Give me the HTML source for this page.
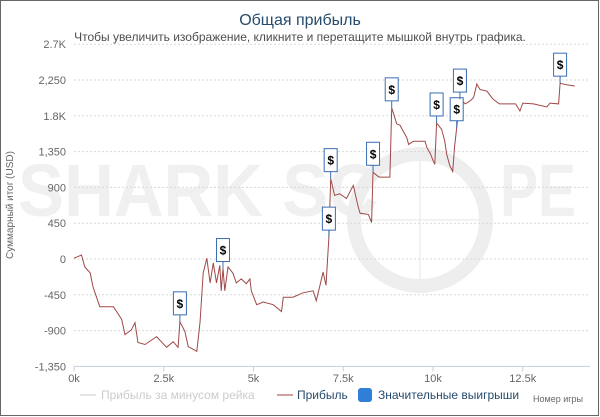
<!DOCTYPE html>
<html><head><meta charset="utf-8"><style>
html,body{margin:0;padding:0;background:#fff}
svg{display:block;font-family:"Liberation Sans","DejaVu Sans",sans-serif}
</style></head><body>
<svg id="chart" width="600" height="417" viewBox="0 0 600 417">
<rect x="0.5" y="0.5" width="598" height="415" fill="#fff" stroke="#666"/>
<g fill="#f0f0f0">
<text x="18" y="216" font-size="74" font-weight="bold" textLength="360" lengthAdjust="spacingAndGlyphs">SHARK SC</text>
<circle cx="420" cy="220" r="66" fill="none" stroke="#eeeeee" stroke-width="14"/>
<line x1="420" y1="160" x2="420" y2="280" stroke="#e6e6e6" stroke-width="1"/>
<line x1="360" y1="220" x2="480" y2="220" stroke="#e6e6e6" stroke-width="1"/>
<text x="500" y="216" font-size="74" font-weight="bold" textLength="76" lengthAdjust="spacingAndGlyphs">PE</text>
</g>
<text x="300" y="25" text-anchor="middle" font-size="16" fill="#274b6d">Общая прибыль</text>
<text x="300" y="41" text-anchor="middle" font-size="12" fill="#4d4d4d">Чтобы увеличить изображение, кликните и перетащите мышкой внутрь графика.</text>
<text transform="translate(13,205) rotate(-90)" text-anchor="middle" font-size="10" fill="#666">Суммарный итог (USD)</text>
<g id="grid"></g>
<g id="series"></g>
<g id="markers"></g>
<g>
<g>
<line x1="80" y1="395" x2="96" y2="395" stroke="#ccc" stroke-width="1"/>
<text x="101" y="399" font-size="12" fill="#ccc">Прибыль за минусом рейка</text></g>
<g>
<line x1="277" y1="395" x2="293" y2="395" stroke="#a04040" stroke-width="1"/>
<text x="297" y="399" font-size="12" fill="#274b6d">Прибыль</text></g>
<g>
<rect x="358" y="388" width="14" height="14" rx="3" fill="#2f7ed8"/>
<text x="378" y="399" font-size="12" fill="#274b6d">Значительные выигрыши</text></g>
</g>
<text x="583" y="402" text-anchor="end" font-size="9" fill="#666">Номер игры</text>
</svg>
<script>
const xTicks = [0, 2500, 5000, 7500, 10000, 12500];
const xTickLabels = ['0k','2.5k','5k','7.5k','10k','12.5k'];
const yTicks = [2700, 2250, 1800, 1350, 900, 450, 0, -450, -900, -1350];
const yTickLabels = ['2.7K','2,250','1.8K','1,350','900','450','0','-450','-900','-1,350'];
const gameIdx = [0,210,300,450,530,720,1000,1100,1330,1420,1600,1700,1780,1980,2300,2580,2760,2900,2950,3090,3180,3420,3510,3600,3700,3790,3880,3970,4060,4100,4150,4200,4290,4430,4520,4660,4800,4900,4940,5090,5270,5550,5780,5830,6100,6380,6660,6750,6940,7020,7100,7150,7260,7400,7590,7780,7920,7970,8200,8290,8330,8500,8800,8850,8990,9080,9270,9320,9450,9780,9830,9930,10000,10050,10100,10240,10330,10380,10470,10550,10600,10660,10750,10900,11040,11130,11220,11310,11500,11670,11850,12300,12420,12500,12800,13170,13260,13500,13540,13720,13950];
const profit = [10,50,-100,-175,-350,-600,-600,-600,-760,-950,-890,-800,-1050,-1075,-975,-1110,-1040,-1110,-790,-910,-1100,-1160,-800,-175,10,-300,-50,-300,-80,-400,-120,-400,-100,-180,-300,-250,-310,-250,-400,-575,-540,-575,-660,-480,-480,-425,-400,-525,-165,-330,275,1010,800,820,760,925,650,575,560,460,1090,1030,1030,1900,1700,1680,1525,1440,1480,1480,1400,1320,1240,1190,1710,1630,1480,1320,1170,1100,1400,1650,2010,1950,1990,2030,2200,2130,2110,2010,1950,1950,1860,1960,1950,1910,1960,1950,2210,2190,2175];
const winGames = [2950,4150,7100,7150,8330,8850,10100,10660,10750,13540];
const winValues = [-790,-120,275,1010,1090,1900,1710,1650,2010,2210];

const NS='http://www.w3.org/2000/svg';
const X0=74, XPK=35.9, Y0=259, YPU=35.8/450, PR=590;
function xs(v){return X0+v/1000*XPK;}
function ys(v){return Y0-v*YPU;}
function mk(t,a){const e=document.createElementNS(NS,t);for(const k in a)e.setAttribute(k,a[k]);return e;}

const grid=document.getElementById('grid');
yTicks.forEach((t,i)=>{
  const y=ys(t);
  const l=mk('line',{x1:X0,x2:PR,y1:y,y2:y,stroke:i===yTicks.length-1?'#c0d0e0':'#d8d8d8','stroke-dasharray':i===yTicks.length-1?'':'2,2'});
  
  
  grid.appendChild(l);
  const tx=mk('text',{x:X0-8,y:y+4,'text-anchor':'end','font-size':11,fill:'#666'});
  tx.textContent=yTickLabels[i];
  
  
  grid.appendChild(tx);
});
xTicks.forEach((t,i)=>{
  const x=xs(t);
  const l=mk('line',{x1:x,x2:x,y1:ys(-1350),y2:ys(-1350)+5,stroke:'#c0d0e0'});
  
  
  grid.appendChild(l);
  const tx=mk('text',{x:x,y:382,'text-anchor':'middle','font-size':11,fill:'#666'});
  tx.textContent=xTickLabels[i];
  
  
  grid.appendChild(tx);
});

const series=document.getElementById('series');
const pts=gameIdx.map((g,i)=>xs(g).toFixed(1)+','+ys(profit[i]).toFixed(1)).join(' ');
const pl=mk('polyline',{points:pts,fill:'none',stroke:'#a04848','stroke-width':1});


series.appendChild(pl);

const markers=document.getElementById('markers');
winGames.forEach((g,i)=>{
  const x=xs(g), y=ys(winValues[i]);
  const grp=mk('g',{});
  
  
  grp.appendChild(mk('line',{x1:x,x2:x,y1:y,y2:y-7,stroke:'#3a6db0'}));
  grp.appendChild(mk('rect',{x:x-6.5,y:y-30,width:13,height:23,fill:'#fff',stroke:'#3a6db0','stroke-width':1}));
  const t=mk('text',{x:x,y:y-14,'text-anchor':'middle','font-size':12,'font-weight':'bold',fill:'#000'});
  t.textContent='$';
  grp.appendChild(t);
  markers.appendChild(grp);
});
</script>
</body></html>
